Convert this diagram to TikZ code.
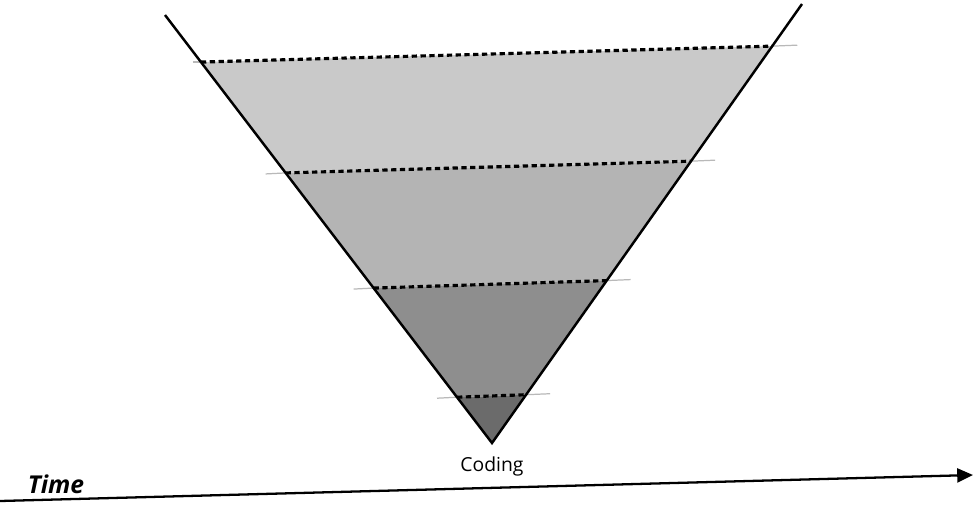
\documentclass[tikz,border=0pt]{standalone}
\usepackage{fontspec}
\setsansfont{Open Sans}
\usetikzlibrary{arrows.meta,calc}
\definecolor{bandA}{HTML}{C9C9C9}
\definecolor{bandB}{HTML}{B4B4B4}
\definecolor{bandC}{HTML}{8E8E8E}
\definecolor{bandD}{HTML}{6B6B6B}
\begin{document}
\begin{tikzpicture}[x=0.02cm,y=-0.02cm,
    edge/.style={draw=black,line width=1.4pt},
    level/.style={draw=black,line width=1.8pt,dash pattern=on 3pt off 2pt},
    tick/.style={draw=gray!55,line width=0.7pt},
    label/.style={font=\sffamily,inner sep=1pt}]
  \useasboundingbox (0,0) rectangle (973,504);
  \coordinate (ltop) at (165,15);
  \coordinate (rtop) at (802,4);
  \coordinate (apex) at (492,443);
  % band boundaries on the two sides
  \foreach \name/\tl/\tr in {a/0.110/0.096, b/0.369/0.358, c/0.638/0.630, d/0.893/0.890} {
    \coordinate (\name l) at ($(ltop)!\tl!(apex)$);
    \coordinate (\name r) at ($(rtop)!\tr!(apex)$);
  }
  % bands
  \fill[bandA] (al) -- (ar) -- (br) -- (bl) -- cycle;
  \fill[bandB] (bl) -- (br) -- (cr) -- (cl) -- cycle;
  \fill[bandC] (cl) -- (cr) -- (dr) -- (dl) -- cycle;
  \fill[bandD] (dl) -- (dr) -- (apex) -- cycle;
  % thin marks past the sides
  \draw[tick] ($(al)+(-8,0)$) -- (al);
  \draw[tick] (ar) -- ($(ar)+(25,-1)$);
  \foreach \name in {b,c,d} {
    \draw[tick] ($(\name l)+(-20,1)$) -- (\name l);
    \draw[tick] (\name r) -- ($(\name r)+(24,-1)$);
  }
  % level lines
  \foreach \name in {a,b,c,d}
    \draw[level] (\name l) -- (\name r);
  % sides
  \draw[edge] (ltop) -- (apex) -- (rtop);
  % time axis
  \coordinate (tstart) at (0,501);
  \coordinate (tend) at (973,475);
  \draw[line width=1.3pt,-{Triangle[length=9pt,width=8pt]}] (tstart) -- (tend);
  \node[label,font=\sffamily\fontsize{11}{13}\selectfont] (coding) at (492,466) {Coding};
  \node[label,font=\sffamily\bfseries\itshape\fontsize{14}{16}\selectfont] (time) at (56,484) {Time};
\end{tikzpicture}
\end{document}
